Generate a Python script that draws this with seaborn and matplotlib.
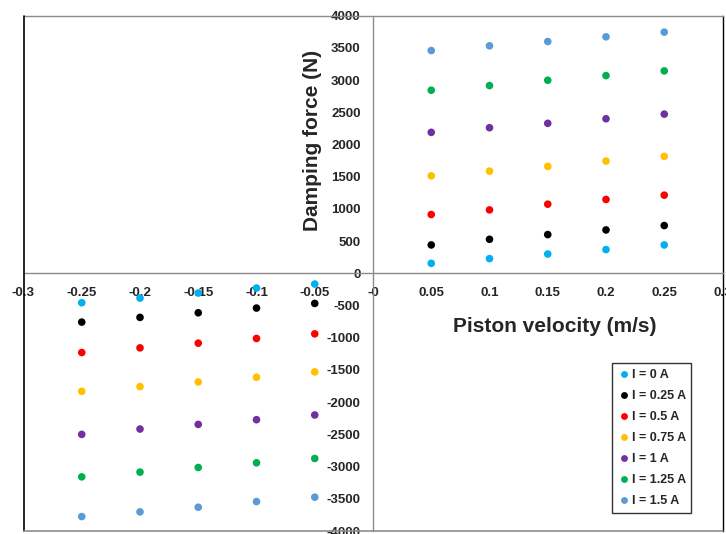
import numpy as np
import pandas as pd
import matplotlib
matplotlib.use("Agg")
import matplotlib.pyplot as plt
import seaborn as sns

sns.set_style("white")
plt.rcParams['font.family'] = ['Liberation Sans', 'DejaVu Sans']
plt.rcParams['font.weight'] = 'bold'

velocity = [-0.25, -0.2, -0.15, -0.1, -0.05, 0.05, 0.1, 0.15, 0.2, 0.25]
currents = ["I = 0 A", "I = 0.25 A", "I = 0.5 A", "I = 0.75 A", "I = 1 A", "I = 1.25 A", "I = 1.5 A"]
force_0 = [-456, -384, -306, -228, -166, 156, 229, 300, 369, 441]
force_025 = [-757, -684, -612, -539, -467, 441, 529, 602, 674, 742]
force_05 = [-1229, -1157, -1084, -1011, -939, 913, 985, 1074, 1147, 1214]
force_075 = [-1831, -1758, -1686, -1613, -1530, 1514, 1587, 1660, 1743, 1816]
force_1 = [-2500, -2417, -2345, -2272, -2199, 2189, 2261, 2329, 2400, 2472]
force_125 = [-3159, -3086, -3014, -2941, -2874, 2843, 2915, 2998, 3070, 3143]
force_15 = [-3776, -3703, -3631, -3543, -3475, 3459, 3532, 3599, 3672, 3745]
colors = ["#00B0F0", "#000000", "#FF0000", "#FFC000", "#7030A0", "#00B050", "#5B9BD5"]

series = [force_0, force_025, force_05, force_075, force_1, force_125, force_15]
rows = []
for name, vals in zip(currents, series):
    for v, f in zip(velocity, vals):
        rows.append({"Piston velocity (m/s)": v, "Damping force (N)": f, "Current": name})
df = pd.DataFrame(rows)

W, H = 726, 534
fig = plt.figure(figsize=(W / 100, H / 100), dpi=100)
ax = fig.add_axes([23.5 / W, 3 / H, 699 / W, 515.3 / H])

sns.scatterplot(data=df, x="Piston velocity (m/s)", y="Damping force (N)", hue="Current",
                hue_order=currents, palette=colors, s=30, edgecolor="none", ax=ax, legend=True,
                clip_on=False, zorder=3)

ax.set_xlim(-0.3, 0.3)
ax.set_ylim(-4000, 4000)
ax.set_xticks(np.round(np.arange(-0.3, 0.31, 0.05), 2))
ax.set_yticks(np.arange(-4000, 4001, 500))
ax.xaxis.set_major_formatter(matplotlib.ticker.FuncFormatter(lambda v, p: f"{v:g}"))
ax.yaxis.set_major_formatter(matplotlib.ticker.FuncFormatter(lambda v, p: f"{v:g}"))
ax.tick_params(axis='both', labelsize=9.5, length=0)
ax.tick_params(axis='x', pad=10)
ax.tick_params(axis='y', pad=9)

ax.spines['left'].set_position(('data', 0))
ax.spines['bottom'].set_position(('data', 0))
ax.spines['left'].set_color('#8c8c8c')
ax.spines['bottom'].set_color('#8c8c8c')
ax.spines['top'].set_color('#8c8c8c')
ax.spines['right'].set_color('#000000')
for sp in ax.spines.values():
    sp.set_linewidth(1.0)
ax.axvline(-0.3, color='black', lw=1.2, clip_on=False, zorder=4)
ax.axhline(-4000, color='#8c8c8c', lw=1.2, clip_on=False, zorder=4)

ax.set_xlabel("")
ax.set_ylabel("")
fig.text(555 / W, 1 - 326 / H, "Piston velocity (m/s)", fontsize=15, fontweight="bold",
         ha="center", va="center")
fig.text(312 / W, 1 - 140 / H, "Damping force (N)", fontsize=15, fontweight="bold",
         ha="center", va="center", rotation=90)

leg = ax.legend(loc="upper left", bbox_to_anchor=(606 / W, 1 - 357 / H),
                bbox_transform=fig.transFigure, frameon=True, fancybox=False,
                prop={"weight": "bold", "size": 9}, labelspacing=0.72,
                handletextpad=0.1, handlelength=1.0, borderpad=0.45, markerscale=0.9)
leg.get_frame().set_edgecolor("black")
leg.get_frame().set_linewidth(1.0)

fig.savefig("out.png", dpi=100)
